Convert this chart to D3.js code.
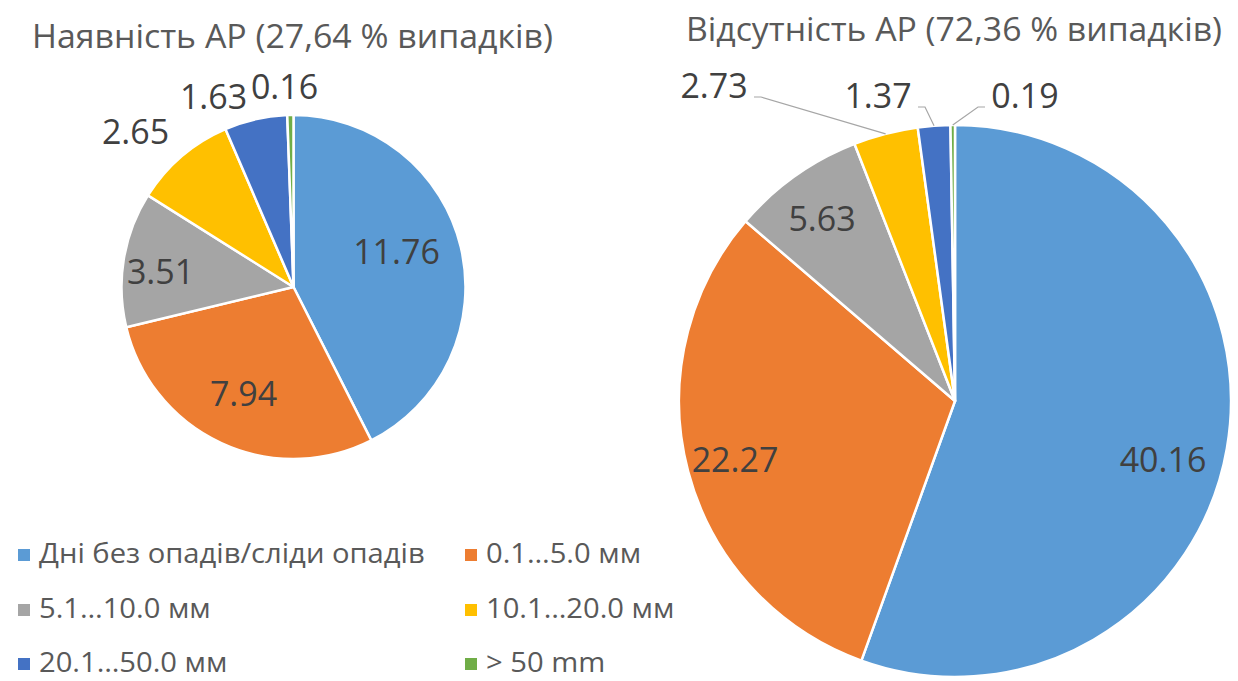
<!DOCTYPE html>
<html lang="uk">
<head>
<meta charset="utf-8">
<script src="https://cdn.jsdelivr.net/npm/d3@7/dist/d3.min.js"></script>
<style>
  html, body { margin: 0; padding: 0; background: #ffffff; }
  svg { display: block; font-family: "Open Sans", "Noto Sans", sans-serif; }
</style>
</head>
<body>
<svg id="chart" width="1238" height="681"></svg>
<script>
// Precipitation classes (legend order = slice order)
const categories = [
  "Дні без опадів/сліди опадів",
  "0.1…5.0 мм",
  "5.1…10.0 мм",
  "10.1…20.0 мм",
  "20.1…50.0 мм",
  "> 50 mm"
];
// Share of cases (%) when AP is present
const presentValues = [11.76, 7.94, 3.51, 2.65, 1.63, 0.16];
// Share of cases (%) when AP is absent
const absentValues = [40.16, 22.27, 5.63, 2.73, 1.37, 0.19];
const titles = [
  "Наявність АР (27,64 % випадків)",
  "Відсутність АР (72,36 % випадків)"
];
const sliceColors = ["#5B9BD5", "#ED7D31", "#A5A5A5", "#FFC000", "#4472C4", "#70AD47"];

// ---- layout ----
const svg = d3.select("#chart");
const labelFont = 34;
const pies = [
  {
    values: presentValues, title: titles[0],
    cx: 293.5, cy: 287, r: 172,
    titleX: 32, titleY: 48, titleW: 521,
    // label centres relative to pie centre
    labelOffsets: [[103, -36], [-50, 106], [-133, -16], [-158, -156], [-80, -191], [-9, -201]],
    leaders: [false, false, false, false, false, false]
  },
  {
    values: absentValues, title: titles[1],
    cx: 955, cy: 401, r: 276,
    titleX: 686, titleY: 41, titleW: 536,
    labelOffsets: [[208, 58], [-220, 58], [-133, -183], [-241, -316], [-77, -306], [70, -306]],
    // leader side: +1 line leaves label to the right, -1 to the left
    leaders: [false, false, false, 1, 1, -1]
  }
];

const color = d3.scaleOrdinal().domain(categories).range(sliceColors);
const pieGen = d3.pie().sort(null).value(d => d.value);

pies.forEach(p => {
  const data = categories.map((c, i) => ({ category: c, value: p.values[i] }));
  const arcs = pieGen(data);
  const arc = d3.arc().innerRadius(0).outerRadius(p.r);

  svg.append("text")
    .attr("x", p.titleX).attr("y", p.titleY)
    .attr("font-size", 32)
    .attr("fill", "#595959")
    .attr("textLength", p.titleW)
    .attr("lengthAdjust", "spacingAndGlyphs")
    .text(p.title);

  const g = svg.append("g").attr("transform", `translate(${p.cx},${p.cy})`);

  g.selectAll("path.slice")
    .data(arcs)
    .join("path")
    .attr("class", "slice")
    .attr("d", arc)
    .attr("fill", d => color(d.data.category))
    .attr("stroke", "#ffffff")
    .attr("stroke-width", 2.5)
    .attr("stroke-linejoin", "round");

  // leader lines for the narrow slices
  arcs.forEach((d, i) => {
    if (!p.leaders[i]) return;
    const mid = (d.startAngle + d.endAngle) / 2;
    const ax = p.r * Math.sin(mid), ay = -p.r * Math.cos(mid);
    const [lx, ly] = p.labelOffsets[i];
    const side = p.leaders[i];
    const halfW = 34;
    const sx = lx + side * (halfW + 6);
    const sy = ly + 12;
    const kx = sx + side * 7;
    g.append("path")
      .attr("d", `M${sx},${sy}L${kx},${sy}L${ax},${ay}`)
      .attr("fill", "none")
      .attr("stroke", "#A6A6A6")
      .attr("stroke-width", 1.2);
  });

  g.selectAll("text.val")
    .data(arcs)
    .join("text")
    .attr("class", "val")
    .attr("x", (d, i) => p.labelOffsets[i][0])
    .attr("y", (d, i) => p.labelOffsets[i][1])
    .attr("text-anchor", "middle")
    .attr("dominant-baseline", "central")
    .attr("font-size", labelFont)
    .attr("fill", "#404040")
    .text(d => d.data.value.toFixed(2));
});

// ---- legend: two columns, three rows ----
const legendCols = [18, 465];
const legendRows = [555, 610, 664];
const legendStretch = 1.08;
const legend = svg.append("g");
categories.forEach((c, i) => {
  const x = legendCols[i % 2];
  const y = legendRows[Math.floor(i / 2)];
  legend.append("rect")
    .attr("x", x).attr("y", y - 6)
    .attr("width", 12).attr("height", 12)
    .attr("fill", color(c));
  const t = legend.append("text")
    .attr("x", x + 21).attr("y", y + 8)
    .attr("font-size", 27)
    .attr("fill", "#595959")
    .text(c);
  const w = t.node().getComputedTextLength();
  t.attr("textLength", w * legendStretch).attr("lengthAdjust", "spacingAndGlyphs");
});
</script>
</body>
</html>
